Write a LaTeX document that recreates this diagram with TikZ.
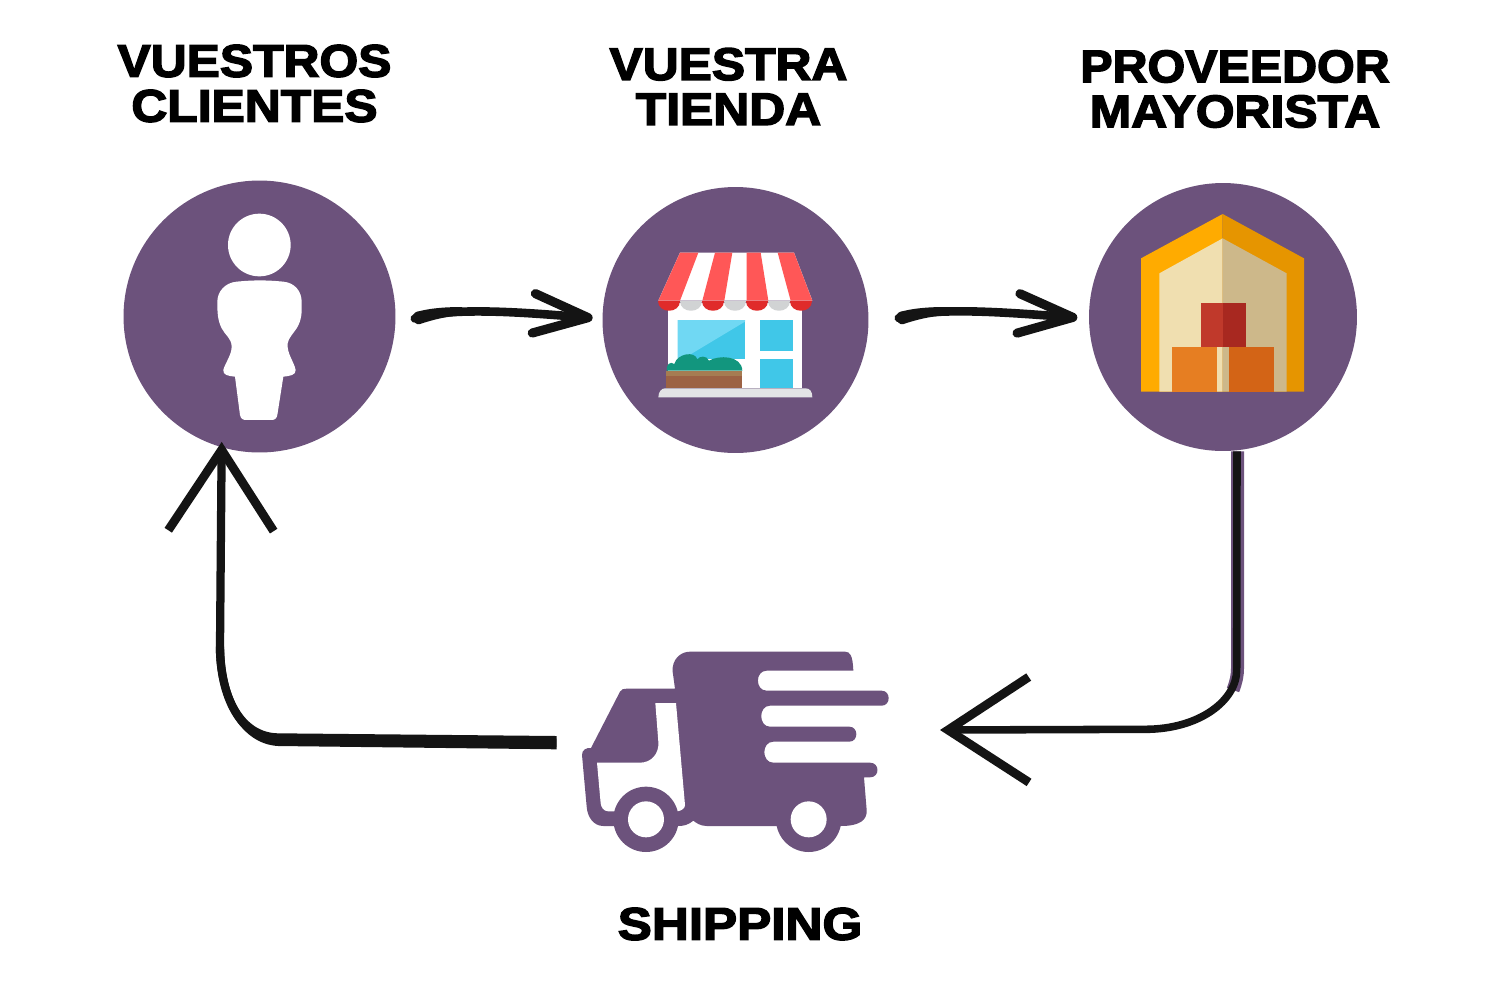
\documentclass[tikz,border=0pt]{standalone}
\usepackage{fontspec}
\usetikzlibrary{arrows.meta,calc}
\newfontfamily\titlefont{Liberation Sans Bold}[FakeBold=3.2,FakeStretch=1.09]
\newfontfamily\titlenarrow{Liberation Sans Bold}[FakeBold=3.2,FakeStretch=1.06]
\newfontfamily\titlewide{Liberation Sans Bold}[FakeBold=3.2,FakeStretch=1.12]
\definecolor{plum}{HTML}{6C527C}
\definecolor{inkblack}{HTML}{141414}
\definecolor{awnred}{HTML}{FF5757}
\definecolor{awndark}{HTML}{E02B2B}
\definecolor{awngrey}{HTML}{D1D3D4}
\definecolor{winblue}{HTML}{40C7E8}
\definecolor{winlight}{HTML}{70D8F3}
\definecolor{bushgreen}{HTML}{12967E}
\definecolor{planttop}{HTML}{A67C52}
\definecolor{plantbody}{HTML}{9C6244}
\definecolor{walkgrey}{HTML}{E2E3E5}
\tikzset{
  hub/.style={circle,fill=plum,inner sep=0pt},
  title/.style={font=\fontsize{26}{25.6}\selectfont,align=center,text=black,inner sep=0pt},
  sketch/.style={draw=inkblack,line width=4.9pt,line cap=round,
    -{Straight Barb[length=31pt,width=22.5pt,line width=5.2pt,round]}},
  heavy/.style={draw=inkblack,line cap=butt,
    -{Straight Barb[length=46pt,width=60pt,line width=5pt]}},
  px/.style={x=0.02cm,y=-0.02cm},
  zoomed/.style={x=0.0066667cm,y=-0.0066667cm}
}
\begin{document}
\begin{tikzpicture}[px]
\useasboundingbox (0,0) rectangle (1500,988);
\fill[white] (0,0) rectangle (1500,988);

% hubs
\node[hub,minimum size=5.44cm] (c1) at (259.5,316.5) {};
\node[hub,minimum size=5.32cm] (c2) at (735.5,320) {};
\node[hub,minimum size=5.36cm] (c3) at (1223,317) {};
\node[inner sep=0pt,minimum width=6.14cm,minimum height=4cm] (truck) at (735.5,752) {};

% person
\begin{scope}[shift={(120,170)},zoomed]
\fill[white] (418,225) circle[radius=94];
\fill[white] (350,335) .. controls (400,330) and (440,330) .. (490,335)
  .. controls (525,338) and (545,365) .. (545,395)
  .. controls (546,430) and (545,450) .. (530,475)
  .. controls (520,490) and (505,505) .. (503,520)
  .. controls (500,550) and (522,575) .. (527,600)
  .. controls (528,615) and (510,618) .. (490,620)
  -- (472,735) .. controls (470,745) and (465,750) .. (455,750)
  -- (378,750) .. controls (368,750) and (362,745) .. (360,735)
  -- (345,620) .. controls (325,618) and (308,615) .. (310,600)
  .. controls (315,580) and (335,555) .. (335,530)
  .. controls (335,505) and (315,495) .. (305,475)
  .. controls (293,450) and (292,430) .. (292,395)
  .. controls (292,365) and (315,338) .. (350,335) -- cycle;
\end{scope}

% store
\begin{scope}[shift={(640,240)},zoomed]
\fill[white] (85,190) rectangle (487,445);
\fill[winblue] (113,240) rectangle (315,356);
\fill[winlight] (113,240) -- (315,240) -- (315,245) -- (130,356) -- (113,356) -- cycle;
\fill[winblue] (359,240) rectangle (460,333);
\fill[winblue] (359,357) rectangle (460,443);
\fill[bushgreen] (80,392) .. controls (78,375) and (90,362) .. (103,372)
  .. controls (112,340) and (165,332) .. (172,358)
  .. controls (178,348) and (200,345) .. (207,362)
  .. controls (235,345) and (305,345) .. (307,392) -- cycle;
\fill[planttop] (77,392) rectangle (307,407);
\fill[plantbody] (77,407) rectangle (307,443);
\fill[walkgrey] (55,472) .. controls (55,455) and (65,445) .. (75,445) -- (497,445)
  .. controls (510,445) and (517,455) .. (517,472) -- cycle;
\fill[white] (120,38) -- (462,38) -- (517,182) -- (55,182) -- cycle;
\fill[awnred] (120,38) -- (175,38) -- (120,182) -- (55,182) -- cycle;
\fill[awnred] (225,38) -- (277,38) -- (253,182) -- (187,182) -- cycle;
\fill[awnred] (320,38) -- (362,38) -- (385,182) -- (320,182) -- cycle;
\fill[awnred] (413,38) -- (462,38) -- (517,182) -- (452,182) -- cycle;
\foreach \cx in {154,286,418}
  \fill[awngrey] (\cx-33,182) .. controls (\cx-33,222) and (\cx+33,222) .. (\cx+33,182) -- cycle;
\foreach \cx in {88,220,352,484}
  \fill[awndark] (\cx-33,182) .. controls (\cx-33,222) and (\cx+33,222) .. (\cx+33,182) -- cycle;
\end{scope}

% warehouse
\begin{scope}[shift={(1130,205)},zoomed]
\fill[fill={rgb,255:red,255;green,171;blue,0}] (278,27) -- (33,160) -- (33,560) -- (278,560) -- cycle;
\fill[fill={rgb,255:red,230;green,149;blue,0}] (278,27) -- (522,160) -- (522,560) -- (278,560) -- cycle;
\fill[fill={rgb,255:red,240;green,223;blue,176}] (278,100) -- (88,205) -- (88,560) -- (278,560) -- cycle;
\fill[fill={rgb,255:red,205;green,184;blue,138}] (278,100) -- (470,205) -- (470,560) -- (278,560) -- cycle;
\fill[fill={rgb,255:red,192;green,57;blue,43}] (212,293) rectangle (278,427);
\fill[fill={rgb,255:red,168;green,40;blue,32}] (278,293) rectangle (347,427);
\fill[fill={rgb,255:red,230;green,126;blue,34}] (125,427) rectangle (260,560);
\fill[fill={rgb,255:red,211;green,100;blue,22}] (297,427) rectangle (432,560);
\end{scope}

% truck
\begin{scope}[shift={(570,640)},zoomed]
\fill[plum] (360,35) -- (825,35) .. controls (840,35) and (848,45) .. (850,92)
  -- (590,92) .. controls (555,92) and (555,152) .. (590,152)
  -- (935,152) .. controls (963,152) and (963,197) .. (935,197)
  -- (600,197) .. controls (565,197) and (565,260) .. (600,260)
  -- (838,260) .. controls (866,260) and (866,305) .. (838,305)
  -- (610,305) .. controls (574,305) and (574,368) .. (610,368)
  -- (900,368) .. controls (930,368) and (930,412) .. (900,412)
  -- (882,412) -- (890,510) .. controls (892,540) and (870,558) .. (812,558)
  -- (410,558) .. controls (390,558) and (378,548) .. (370,542)
  .. controls (355,555) and (340,558) .. (325,558) -- (100,558)
  .. controls (70,558) and (52,530) .. (50,500)
  -- (36,345) .. controls (35,330) and (50,322) .. (63,324)
  -- (150,155) .. controls (155,147) and (160,146) .. (170,146)
  -- (315,146) -- (308,95) .. controls (305,60) and (330,35) .. (360,35) -- cycle;
\fill[white] (256,189) -- (318,189) -- (345,495) .. controls (345,505) and (335,512) .. (322,514)
  -- (115,514) .. controls (100,514) and (93,500) .. (92,490) -- (81,368) -- (210,368)
  .. controls (245,368) and (268,340) .. (265,305) -- cycle;
\foreach \wx in {228,716} {
  \fill[plum] (\wx,538) circle[radius=98];
  \fill[white] (\wx,538) circle[radius=54];
}
\end{scope}

% connectors
\fill[inkblack] (413,317) .. controls (413,313) and (416,311.5) .. (420,311) .. controls (432,308) and (447,307) .. (462,307)
  -- (462,315.5) .. controls (447,316) and (432,320) .. (420,324) .. controls (416,325) and (413,322) .. (413,317) -- cycle;
\draw[sketch] ($(c1.east)+(19,2)$) .. controls (450,306) and (530,313) .. ($(c2.west)+(-9.5,-2)$);
\fill[inkblack] (896.5,317) .. controls (896.5,313) and (899.5,311.5) .. (903.5,311) .. controls (915.5,308) and (930.5,307) .. (945.5,307)
  -- (945.5,315.5) .. controls (930.5,316) and (915.5,320) .. (903.5,324) .. controls (899.5,325) and (896.5,322) .. (896.5,317) -- cycle;
\draw[sketch] ($(c2.east)+(30,-2)$) .. controls (933,306) and (1013,313) .. ($(c3.west)+(-11.3,0.7)$);

\draw[plum,line width=7.4pt] ($(c3.south)+(14.5,0)$) -- (1237.5,668) .. controls (1237.5,676) and (1236,682) .. (1233,690);
\draw[heavy,line width=4.3pt] ($(c3.south)+(14,0)$) -- (1236.7,670)
  .. controls (1236.7,700) and (1200,729.3) .. (1145,729.3) -- ($(truck.east)+(50.7,-22)$);
\fill[inkblack] (556.7,736) -- (556.7,749.3) -- (278.3,746)
  .. controls (238,744) and (216,695) .. (215.8,646.7) -- (224.2,646.7)
  .. controls (224.5,695) and (243,733) .. (278.3,733.3) -- cycle;
\draw[heavy,line width=4.7pt] ($(truck.west)+(-25.3,-9.3)$) -- (278,739.3)
  .. controls (240,738.5) and (220,695) .. (220,646.7) -- ($(c1.south)+(-37.8,-11)$);

% labels
\node[title] (t1) at (254.5,83.5) {\titlefont VUESTROS\\\titlefont CLIENTES};
\node[title] (t2) at (728.5,86.5) {\titlefont VUESTRA\\\titlefont TIENDA};
\node[title] (t3) at (1235,89) {\titlenarrow PROVEEDOR\\\titlefont MAYORISTA};
\node[title] (t4) at (740,924) {\titlewide SHIPPING};
\end{tikzpicture}
\end{document}
